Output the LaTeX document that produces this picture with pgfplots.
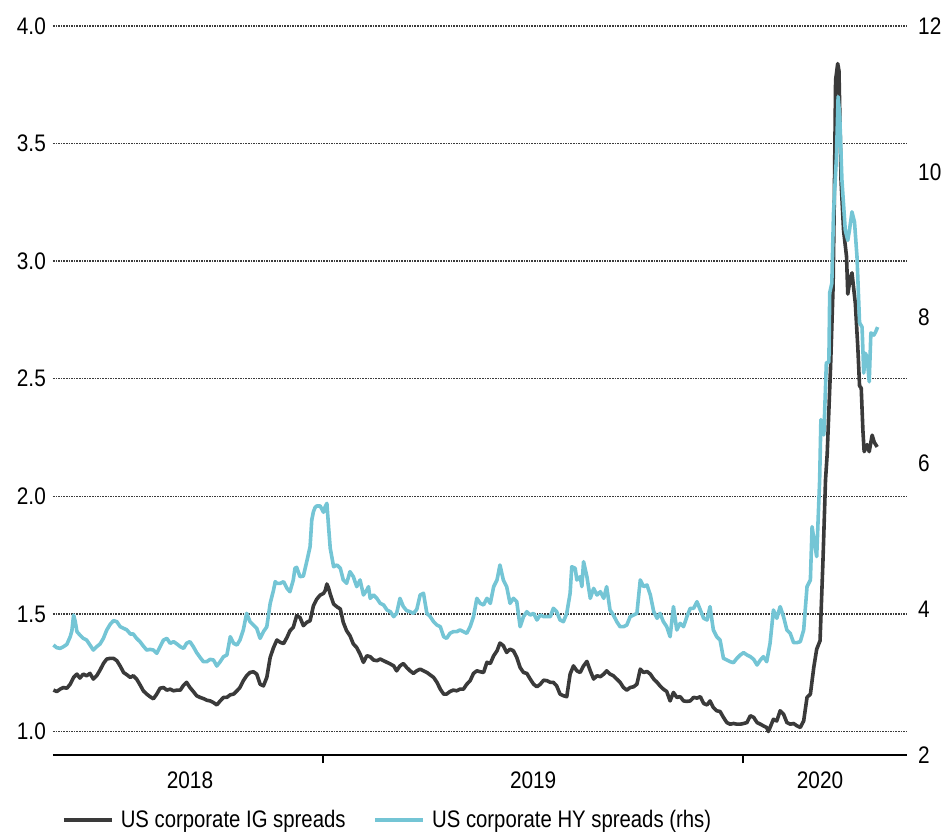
\documentclass[border=0pt]{standalone}
\usepackage{fontspec}
\setmainfont{Liberation Sans}[FakeStretch=0.87]
\newfontfamily\legfont{Liberation Sans}[FakeStretch=0.85]
\usepackage{pgfplots}
\usepackage{pgfplotstable}
\pgfplotsset{compat=1.18}

\definecolor{igcol}{HTML}{3A3A3A}
\definecolor{hycol}{HTML}{74C5D5}
\definecolor{gridcol}{HTML}{3C3C3C}

% US corporate IG option-adjusted spread (%), decimal years
\pgfplotstableread{
x y
2018.358 1.176
2018.366 1.170
2018.374 1.180
2018.382 1.187
2018.390 1.184
2018.398 1.201
2018.406 1.230
2018.414 1.244
2018.421 1.227
2018.429 1.244
2018.437 1.237
2018.445 1.247
2018.453 1.223
2018.461 1.237
2018.469 1.261
2018.477 1.289
2018.485 1.308
2018.493 1.311
2018.501 1.311
2018.509 1.301
2018.517 1.278
2018.525 1.251
2018.533 1.241
2018.541 1.230
2018.548 1.237
2018.556 1.223
2018.564 1.199
2018.572 1.173
2018.580 1.159
2018.588 1.148
2018.596 1.139
2018.604 1.159
2018.612 1.184
2018.620 1.187
2018.628 1.176
2018.636 1.180
2018.644 1.173
2018.652 1.176
2018.660 1.176
2018.668 1.197
2018.675 1.209
2018.683 1.187
2018.691 1.170
2018.699 1.152
2018.707 1.145
2018.715 1.140
2018.723 1.133
2018.731 1.130
2018.739 1.123
2018.747 1.113
2018.755 1.130
2018.763 1.145
2018.771 1.145
2018.779 1.156
2018.787 1.159
2018.795 1.173
2018.802 1.187
2018.810 1.216
2018.818 1.237
2018.826 1.251
2018.834 1.254
2018.842 1.244
2018.850 1.201
2018.858 1.194
2018.866 1.230
2018.874 1.315
2018.882 1.357
2018.890 1.389
2018.898 1.379
2018.906 1.374
2018.914 1.400
2018.921 1.428
2018.929 1.443
2018.937 1.492
2018.945 1.485
2018.953 1.450
2018.961 1.464
2018.969 1.471
2018.977 1.535
2018.985 1.563
2018.993 1.580
2019.001 1.587
2019.005 1.599
2019.009 1.627
2019.013 1.610
2019.017 1.584
2019.025 1.542
2019.033 1.530
2019.041 1.521
2019.048 1.464
2019.056 1.428
2019.064 1.407
2019.072 1.372
2019.080 1.357
2019.088 1.329
2019.096 1.294
2019.104 1.322
2019.112 1.318
2019.120 1.304
2019.128 1.301
2019.136 1.308
2019.144 1.301
2019.152 1.294
2019.160 1.287
2019.168 1.279
2019.175 1.258
2019.183 1.279
2019.191 1.289
2019.199 1.272
2019.207 1.258
2019.215 1.247
2019.223 1.258
2019.231 1.265
2019.247 1.251
2019.263 1.230
2019.271 1.209
2019.279 1.180
2019.287 1.159
2019.294 1.159
2019.302 1.170
2019.310 1.176
2019.318 1.173
2019.326 1.180
2019.334 1.180
2019.342 1.201
2019.350 1.216
2019.358 1.247
2019.366 1.258
2019.374 1.254
2019.382 1.251
2019.390 1.294
2019.398 1.289
2019.406 1.322
2019.414 1.343
2019.421 1.376
2019.429 1.365
2019.437 1.336
2019.445 1.350
2019.453 1.343
2019.461 1.315
2019.469 1.272
2019.477 1.251
2019.485 1.247
2019.493 1.223
2019.501 1.201
2019.509 1.190
2019.517 1.201
2019.525 1.218
2019.533 1.216
2019.541 1.209
2019.548 1.209
2019.556 1.194
2019.564 1.159
2019.572 1.152
2019.580 1.148
2019.588 1.244
2019.596 1.279
2019.604 1.258
2019.612 1.251
2019.620 1.279
2019.628 1.298
2019.636 1.258
2019.644 1.223
2019.652 1.237
2019.660 1.233
2019.668 1.244
2019.675 1.258
2019.683 1.244
2019.691 1.237
2019.699 1.223
2019.707 1.209
2019.715 1.187
2019.723 1.176
2019.731 1.187
2019.739 1.190
2019.747 1.201
2019.755 1.265
2019.763 1.251
2019.771 1.255
2019.779 1.244
2019.787 1.223
2019.795 1.209
2019.802 1.194
2019.810 1.180
2019.818 1.170
2019.826 1.130
2019.834 1.166
2019.842 1.145
2019.850 1.148
2019.858 1.130
2019.866 1.128
2019.874 1.130
2019.882 1.145
2019.890 1.142
2019.898 1.148
2019.906 1.119
2019.914 1.113
2019.921 1.130
2019.929 1.102
2019.937 1.088
2019.945 1.085
2019.953 1.060
2019.961 1.038
2019.969 1.031
2019.977 1.034
2019.985 1.031
2019.993 1.031
2020.001 1.034
2020.009 1.038
2020.017 1.067
2020.025 1.060
2020.033 1.038
2020.041 1.031
2020.048 1.024
2020.056 1.017
2020.060 1.000
2020.064 1.017
2020.072 1.052
2020.080 1.045
2020.088 1.088
2020.096 1.074
2020.104 1.038
2020.112 1.031
2020.120 1.034
2020.128 1.024
2020.136 1.017
2020.144 1.045
2020.152 1.145
2020.160 1.159
2020.168 1.272
2020.175 1.350
2020.183 1.386
2020.190 1.730
2020.196 2.070
2020.200 2.180
2020.208 2.550
2020.214 2.890
2020.217 3.270
2020.220 3.770
2020.225 3.840
2020.228 3.810
2020.230 3.630
2020.233 3.340
2020.239 3.130
2020.246 3.020
2020.249 2.860
2020.255 2.930
2020.259 2.950
2020.267 2.820
2020.273 2.630
2020.277 2.470
2020.281 2.460
2020.285 2.280
2020.288 2.190
2020.295 2.220
2020.300 2.190
2020.307 2.260
2020.312 2.230
2020.319 2.210
}\igdata

% US corporate HY option-adjusted spread (%), decimal years
\pgfplotstableread{
x y
2018.358 3.509
2018.366 3.472
2018.374 3.463
2018.382 3.486
2018.390 3.518
2018.398 3.623
2018.402 3.706
2018.406 3.920
2018.410 3.829
2018.414 3.692
2018.421 3.646
2018.429 3.600
2018.437 3.577
2018.445 3.509
2018.453 3.440
2018.461 3.486
2018.469 3.523
2018.477 3.600
2018.485 3.715
2018.493 3.792
2018.501 3.843
2018.509 3.829
2018.517 3.760
2018.525 3.738
2018.533 3.715
2018.541 3.660
2018.548 3.660
2018.556 3.600
2018.564 3.555
2018.572 3.495
2018.580 3.440
2018.588 3.449
2018.596 3.440
2018.604 3.395
2018.612 3.486
2018.620 3.577
2018.628 3.600
2018.636 3.532
2018.644 3.555
2018.652 3.523
2018.660 3.486
2018.668 3.463
2018.675 3.532
2018.683 3.555
2018.691 3.486
2018.699 3.404
2018.707 3.340
2018.715 3.280
2018.723 3.280
2018.731 3.312
2018.739 3.303
2018.747 3.221
2018.755 3.280
2018.763 3.349
2018.771 3.372
2018.779 3.623
2018.787 3.532
2018.795 3.509
2018.802 3.577
2018.810 3.715
2018.818 3.943
2018.826 3.829
2018.834 3.783
2018.842 3.738
2018.850 3.600
2018.858 3.692
2018.866 3.760
2018.874 4.080
2018.882 4.263
2018.886 4.378
2018.890 4.355
2018.898 4.355
2018.906 4.378
2018.914 4.286
2018.921 4.240
2018.929 4.401
2018.933 4.561
2018.937 4.574
2018.945 4.446
2018.953 4.455
2018.961 4.652
2018.969 4.858
2018.973 5.224
2018.977 5.338
2018.981 5.397
2018.985 5.416
2018.993 5.416
2019.001 5.329
2019.005 5.406
2019.009 5.452
2019.013 5.132
2019.017 4.835
2019.025 4.583
2019.033 4.606
2019.041 4.561
2019.048 4.401
2019.056 4.355
2019.064 4.515
2019.072 4.446
2019.080 4.309
2019.088 4.401
2019.096 4.195
2019.104 4.263
2019.108 4.309
2019.112 4.149
2019.120 4.195
2019.128 4.149
2019.136 4.080
2019.144 4.058
2019.152 3.989
2019.160 3.966
2019.168 3.898
2019.175 3.943
2019.183 4.149
2019.191 4.035
2019.199 3.980
2019.207 3.966
2019.215 3.943
2019.223 3.998
2019.231 4.195
2019.239 4.218
2019.247 3.943
2019.255 3.898
2019.263 3.829
2019.271 3.783
2019.279 3.760
2019.287 3.623
2019.294 3.600
2019.302 3.669
2019.310 3.692
2019.318 3.692
2019.326 3.715
2019.334 3.692
2019.342 3.669
2019.350 3.760
2019.358 3.898
2019.366 4.149
2019.374 4.080
2019.382 4.058
2019.390 4.149
2019.398 4.080
2019.406 4.309
2019.414 4.401
2019.421 4.606
2019.429 4.401
2019.437 4.309
2019.445 4.080
2019.453 4.149
2019.461 4.103
2019.469 3.760
2019.477 3.898
2019.485 3.966
2019.493 3.920
2019.501 3.943
2019.509 3.852
2019.517 3.920
2019.525 3.898
2019.533 3.898
2019.541 3.898
2019.548 4.012
2019.556 3.966
2019.564 3.852
2019.572 3.829
2019.580 3.943
2019.588 4.218
2019.592 4.583
2019.600 4.561
2019.604 4.401
2019.612 4.446
2019.616 4.309
2019.620 4.652
2019.628 4.446
2019.636 4.149
2019.644 4.286
2019.652 4.195
2019.660 4.240
2019.668 4.149
2019.675 4.309
2019.683 3.989
2019.691 3.920
2019.699 3.829
2019.707 3.760
2019.715 3.760
2019.723 3.783
2019.731 3.898
2019.739 3.920
2019.747 3.943
2019.755 4.401
2019.763 4.309
2019.771 4.332
2019.779 4.195
2019.787 3.966
2019.795 3.875
2019.802 3.943
2019.810 3.829
2019.818 3.760
2019.826 3.623
2019.834 4.035
2019.842 3.715
2019.850 3.806
2019.858 3.760
2019.866 3.898
2019.874 4.012
2019.882 4.012
2019.890 4.103
2019.898 3.989
2019.906 3.875
2019.914 3.852
2019.921 4.035
2019.929 3.715
2019.937 3.623
2019.945 3.577
2019.953 3.326
2019.961 3.303
2019.969 3.280
2019.977 3.267
2019.985 3.326
2019.993 3.372
2020.001 3.404
2020.009 3.372
2020.017 3.349
2020.025 3.312
2020.033 3.235
2020.041 3.303
2020.048 3.349
2020.056 3.280
2020.064 3.532
2020.072 3.989
2020.080 3.875
2020.088 4.035
2020.096 3.898
2020.104 3.715
2020.112 3.669
2020.120 3.541
2020.128 3.541
2020.136 3.555
2020.144 3.715
2020.152 4.309
2020.160 4.401
2020.164 5.132
2020.168 4.972
2020.175 4.721
2020.182 5.770
2020.185 6.600
2020.192 6.390
2020.198 7.380
2020.204 7.390
2020.206 8.340
2020.211 8.470
2020.215 9.430
2020.222 10.200
2020.226 11.030
2020.230 10.750
2020.235 9.890
2020.243 9.200
2020.249 9.060
2020.253 9.200
2020.259 9.450
2020.265 9.310
2020.271 8.830
2020.277 7.930
2020.283 7.870
2020.287 7.240
2020.291 7.510
2020.295 7.460
2020.300 7.120
2020.304 7.790
2020.311 7.760
2020.315 7.800
2020.320 7.870
}\hydata

\pgfplotsset{
  every tick label/.append style={font=\fontsize{24}{28}\selectfont},
  /pgf/number format/assume math mode=true,
  basechart/.style={
    scale only axis, width=854bp, height=729bp,
    xmin=2018.357, xmax=2020.390,
    clip=false,
  },
  legend image code/.code={\draw[#1, line width=3.6bp] (0bp,0bp) -- (48bp,0bp);},
}

\begin{document}
\begin{tikzpicture}
\path[use as bounding box] (-53bp,-80bp) rectangle (890bp,755bp);

% left axis: IG spreads, gridlines and the date axis
\begin{axis}[basechart,
  ymin=0.9, ymax=4.0,
  axis x line*=bottom, axis y line*=left,
  y axis line style={draw=none},
  x axis line style={black, line width=1.4bp},
  xtick={2019,2020}, xticklabels={},
  xtick style={black, line width=1.4bp},
  tick align=outside, major tick length=8bp,
  ytick={1.0,1.5,2.0,2.5,3.0,3.5,4.0},
  ytick style={draw=none},
  yticklabel style={/pgf/number format/fixed, /pgf/number format/fixed zerofill, /pgf/number format/precision=1},
  yticklabel style={anchor=east, inner sep=0pt, xshift=1bp},
  ymajorgrids,
  grid style={gridcol, line width=1.5bp, dash pattern=on 1.6bp off 1.0bp},
]
\addplot[igcol, line width=3.6bp, line join=round] table {\igdata};
\node[font=\fontsize{24}{28}\selectfont, anchor=center] at (axis cs:2018.683,0.9) [yshift=-25bp] {2018};
\node[font=\fontsize{24}{28}\selectfont, anchor=center] at (axis cs:2019.500,0.9) [yshift=-25bp] {2019};
\node[font=\fontsize{24}{28}\selectfont, anchor=center] at (axis cs:2020.183,0.9) [yshift=-25bp] {2020};
\end{axis}

% right axis: HY spreads and the legend
\begin{axis}[basechart,
  ymin=2, ymax=12,
  axis x line=none, axis y line*=right,
  y axis line style={draw=none},
  ytick={2,4,6,8,10,12},
  ytick style={draw=none},
  yticklabel style={anchor=west, inner sep=0pt, xshift=11bp},
  legend columns=2,
  legend style={at={(0.0105,-0.0892)}, anchor=west, draw=none, fill=none,
    inner sep=0pt, font=\legfont\fontsize{24}{28}\selectfont,
    nodes={inner sep=0pt, anchor=west},
    /tikz/every odd column/.append style={column sep=7bp},
    /tikz/every even column/.append style={column sep=28bp}},
]
\addlegendimage{igcol}
\addlegendentry{US corporate IG spreads}
\addplot[hycol, line width=3.6bp, line join=round] table {\hydata};
\addlegendentry{US corporate HY spreads (rhs)}
\end{axis}
\end{tikzpicture}
\end{document}
